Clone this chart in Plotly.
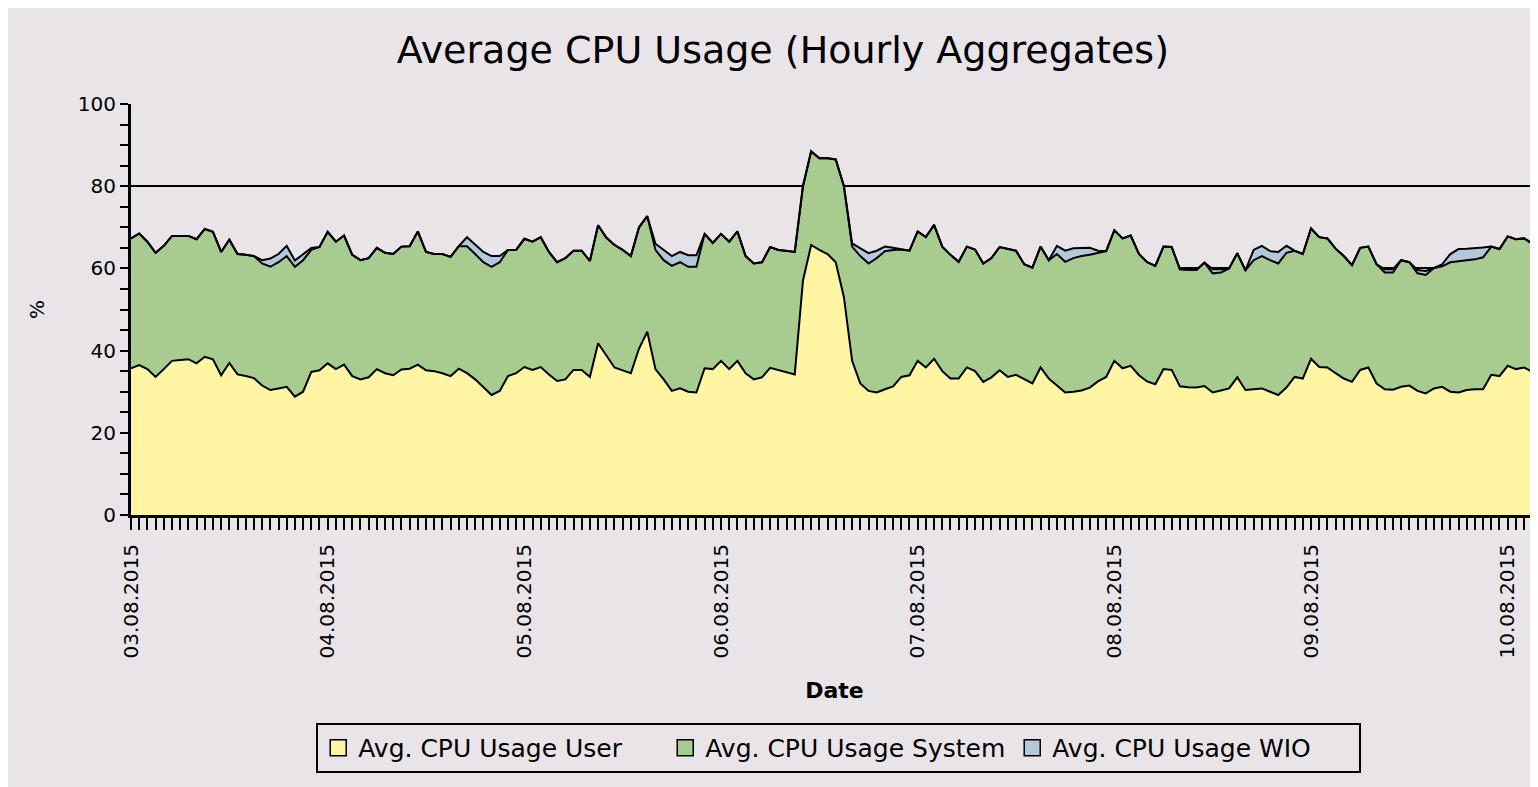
import pandas as pd
import plotly.graph_objects as go

# hourly averages, starting 03.08.2015 00:00
start = "2015-08-03 00:00"

user = [
    35.7, 36.5, 35.5, 33.6, 35.5, 37.5, 37.7, 37.9, 36.9, 38.5,
    37.9, 34.0, 37.0, 34.2, 33.8, 33.3, 31.5, 30.4, 30.8, 31.2,
    28.8, 30.0, 34.8, 35.2, 36.9, 35.5, 36.6, 33.8, 33.0, 33.5,
    35.5, 34.5, 34.0, 35.4, 35.6, 36.6, 35.2, 35.0, 34.5, 33.8,
    35.6, 34.5, 33.0, 31.0, 29.2, 30.2, 33.8, 34.5, 36.0, 35.3,
    36.0, 34.2, 32.6, 33.0, 35.3, 35.3, 33.6, 41.8, 39.0, 35.9,
    35.2, 34.5, 40.5, 44.6, 35.5, 33.0, 30.2, 30.8, 30.0, 29.8,
    35.7, 35.5, 37.5, 35.5, 37.5, 34.5, 33.0, 33.5, 35.8, 35.3,
    34.8, 34.2, 57.0, 65.7, 64.5, 63.5, 61.5, 53.0, 37.5, 32.0,
    30.2, 29.8, 30.6, 31.3, 33.6, 34.0, 37.5, 35.9, 38.0, 35.0,
    33.2, 33.2, 35.9, 35.0, 32.4, 33.5, 35.2, 33.6, 34.1, 33.0,
    32.0, 35.9, 33.2, 31.5, 29.8, 30.0, 30.3, 31.0, 32.5, 33.6,
    37.5, 35.7, 36.3, 34.0, 32.5, 31.8, 35.5, 35.3, 31.3, 31.1,
    31.0, 31.4, 29.8, 30.3, 30.8, 33.5, 30.4, 30.6, 30.8, 30.0,
    29.2, 31.0, 33.6, 33.2, 38.0, 36.0, 35.9, 34.5, 33.2, 32.4,
    35.3, 35.9, 32.0, 30.6, 30.5, 31.2, 31.5, 30.2, 29.6, 30.8,
    31.2, 30.0, 29.8, 30.4, 30.6, 30.6, 34.1, 33.8, 36.3, 35.5,
    35.9, 34.8, 34.1,
]

system = [
    31.6, 32.0, 31.0, 30.2, 30.0, 30.4, 30.2, 30.0, 30.2, 31.1,
    31.0, 30.0, 30.0, 29.3, 29.5, 29.7, 29.7, 30.0, 30.7, 31.8,
    31.6, 32.0, 29.7, 30.0, 32.0, 31.0, 31.4, 29.5, 29.0, 29.0,
    29.5, 29.3, 29.5, 29.9, 29.8, 32.4, 28.8, 28.5, 29.0, 29.0,
    29.8, 30.9, 30.5, 30.5, 31.2, 31.3, 30.7, 30.0, 31.2, 31.2,
    31.6, 29.8, 28.9, 29.5, 29.0, 29.0, 28.2, 28.7, 28.5, 29.8,
    29.3, 28.5, 29.5, 28.1, 29.0, 29.0, 30.4, 30.7, 30.4, 30.6,
    32.7, 30.7, 30.9, 31.0, 31.5, 28.5, 28.2, 28.0, 29.4, 29.2,
    29.5, 29.8, 23.0, 22.8, 22.3, 23.3, 25.0, 27.0, 27.8, 31.0,
    31.0, 32.7, 33.6, 33.2, 31.0, 30.3, 31.5, 31.7, 32.6, 30.3,
    30.1, 28.4, 29.4, 29.6, 28.8, 29.0, 30.0, 31.2, 30.2, 28.0,
    28.2, 29.4, 28.8, 32.0, 31.8, 32.5, 32.7, 32.3, 31.2, 30.6,
    31.8, 31.6, 31.7, 29.5, 29.0, 28.8, 29.8, 29.9, 28.5, 28.6,
    28.6, 30.0, 29.0, 28.7, 29.2, 30.2, 29.1, 31.4, 32.2, 32.0,
    32.0, 32.8, 30.7, 30.3, 31.7, 31.6, 31.4, 30.3, 29.8, 28.4,
    29.7, 29.4, 29.0, 28.4, 28.5, 30.8, 30.0, 28.6, 28.8, 29.3,
    29.3, 31.5, 31.9, 31.6, 31.6, 32.1, 31.2, 30.9, 31.5, 31.6,
    31.4, 31.2, 30.8,
]

wio = [
    0, 0, 0, 0, 0, 0, 0, 0, 0, 0,
    0, 0, 0, 0, 0, 0, 0.8, 2.0, 2.0, 2.5,
    1.5, 1.5, 0.5, 0, 0, 0, 0, 0, 0, 0,
    0, 0, 0, 0, 0, 0, 0, 0, 0, 0,
    0, 2.2, 2.2, 2.5, 2.6, 1.5, 0, 0, 0, 0,
    0, 0, 0, 0, 0, 0, 0, 0, 0, 0,
    0, 0, 0, 0, 1.5, 2.5, 2.4, 2.5, 2.8, 2.8,
    0, 0, 0, 0, 0, 0, 0, 0, 0, 0,
    0, 0, 0, 0, 0, 0, 0, 0, 0.8, 2.0,
    2.5, 1.8, 1.1, 0.5, 0, 0, 0, 0, 0, 0,
    0, 0, 0, 0, 0, 0, 0, 0, 0, 0,
    0, 0, 0, 2.0, 2.7, 2.4, 2.0, 1.7, 0.6, 0,
    0, 0, 0, 0, 0, 0, 0, 0, 0, 0,
    0, 0, 1.0, 0.8, 0, 0, 0, 2.5, 2.5, 2.2,
    2.8, 1.7, 0, 0, 0, 0, 0, 0, 0, 0,
    0, 0, 0, 0.8, 0.8, 0, 0, 0.8, 1.0, 0,
    0.5, 2.0, 3.0, 2.8, 2.7, 2.4, 0, 0, 0, 0,
    0, 0, 0,
]

names = ["Avg. CPU Usage User", "Avg. CPU Usage System", "Avg. CPU Usage WIO"]
colors = ["#FFF5A3", "#A8CC90", "#B2C9DB"]
bg = "#E8E4E8"
font = "DejaVu Sans"

dates = pd.date_range(start, periods=len(user), freq="h")

fig = go.Figure()
for name, vals, color in zip(names, [user, system, wio], colors):
    fig.add_trace(go.Scatter(x=dates, y=vals, name=name, mode="lines",
                             stackgroup="cpu", fillcolor=color, showlegend=False,
                             line=dict(color="black", width=2)))

# square legend swatches like the original chart
for name, color in zip(names, colors):
    fig.add_trace(go.Scatter(x=[None], y=[None], name=name, mode="markers",
                             marker=dict(symbol="square", size=18, color=color,
                                         line=dict(color="black", width=1.5))))

# page body adds 8px around the plot, so the figure is a bit smaller than the window
fig.update_layout(
    width=1530, height=779,
    paper_bgcolor=bg, plot_bgcolor=bg,
    margin=dict(l=123, r=0, t=96, b=272),
    font=dict(family=font, color="black", size=20),
    title=dict(text="Average CPU Usage (Hourly Aggregates)", font=dict(size=38, color="black"),
               xref="container", x=0.5065, xanchor="center",
               yref="container", y=1 - 42 / 779, yanchor="middle"),
    legend=dict(orientation="h", traceorder="normal",
                x=0.503, xanchor="center", y=-0.506, yanchor="top",
                bgcolor=bg, bordercolor="black", borderwidth=2,
                font=dict(size=25), entrywidth=302),
    showlegend=True,
)

fig.update_xaxes(
    type="date",
    range=["2015-08-03 00:00", "2015-08-10 03:42"],
    tick0="2015-08-03", dtick=86400000, tickformat="%d.%m.%Y", tickangle=-90,
    ticks="outside", ticklen=12, tickwidth=2, tickcolor="black",
    minor=dict(dtick=3600000, ticks="outside", ticklen=12, tickwidth=2, tickcolor="black"),
    showline=True, linecolor="black", linewidth=3, showgrid=False,
    tickfont=dict(size=20), ticklabelstandoff=6,
    title=dict(text="<b>Date</b>", font=dict(size=22), standoff=26),
)

fig.update_yaxes(
    range=[0, 100], dtick=20, ticks="outside", ticklen=8, tickwidth=2, tickcolor="black",
    minor=dict(dtick=5, ticks="outside", ticklen=8, tickwidth=2, tickcolor="black"),
    showline=True, linecolor="black", linewidth=3,
    showgrid=True, gridcolor="black", gridwidth=2, zeroline=False,
    tickfont=dict(size=20),
    title=dict(text="%", font=dict(size=20), standoff=28),
)

fig.write_html("out.html")
